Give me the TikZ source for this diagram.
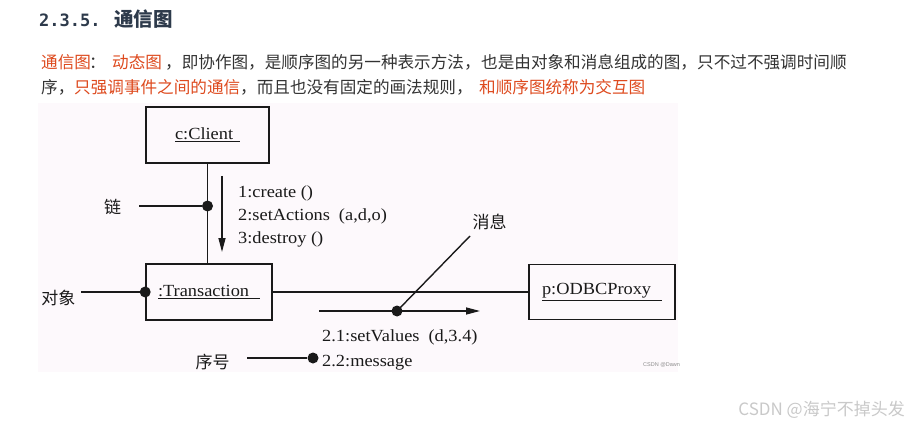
\documentclass[tikz,border=0pt]{standalone}
\usepackage{fontspec}
\setmainfont{Liberation Serif}
\newfontfamily\cjk{Noto Sans CJK SC}
\newfontfamily\dfont[FakeStretch=1.08]{Liberation Serif}
\newfontfamily\monob{DejaVu Sans Mono}
\newfontfamily\wmfont{Liberation Sans}
\usetikzlibrary{arrows.meta}
\definecolor{headc}{HTML}{2D3A4B}
\definecolor{redc}{HTML}{DE4A1E}
\definecolor{bodyc}{HTML}{333333}
\definecolor{wmc}{HTML}{C9C9C9}
\definecolor{diabg}{HTML}{FDF9FC}
\definecolor{ink}{HTML}{1A1A1A}
\begin{document}
\begin{tikzpicture}[x=1pt,y=-1pt,
  body/.style={anchor=base west, inner sep=0pt, text=bodyc, font=\cjk\fontsize{16.6}{20}\selectfont},
  hl/.style={body, text=redc},
  objbox/.style={draw=ink, line width=1.6pt, inner sep=0pt, font=\dfont\fontsize{17}{19}\selectfont, text=ink},
  msg/.style={anchor=base west, inner sep=0pt, font=\dfont\fontsize{17}{19}\selectfont, text=ink},
  lbl/.style={inner sep=0pt, font=\cjk\fontsize{17}{20}\selectfont, text=ink},
  dot/.style={circle, fill=ink, inner sep=0pt, minimum size=11pt},
  conn/.style={draw=ink, line width=1.4pt},
  arr/.style={conn, -{Triangle[length=14pt,width=7pt]}},
]
\useasboundingbox (0,0) rectangle (908,425);
\fill[white] (0,0) rectangle (908,425);
\fill[diabg] (38,103) rectangle (678,372);

% heading
\node[anchor=base west, inner sep=0pt, text=headc, font=\monob\bfseries\fontsize{17}{20}\selectfont] (hnum) at (39,27) {2.3.5.};
\node[anchor=base west, inner sep=0pt, text=headc, font=\cjk\bfseries\fontsize{19.5}{22}\selectfont] (htitle) at (114,27) {通信图};

% paragraph
\node[hl] (p1) at (41,68.8) {通信图};
\node[body] (p2) at (89,68.8) {：};
\node[hl] (p3) at (112,68.8) {动态图};
\node[body] (p4) at (165,68.8) {，即协作图，是顺序图的另一种表示方法，};
\node[body] (p5) at (481,68.8) {也是由对象和消息组成的图，};
\node[body] (p6) at (697,68.8) {只不过不强调时间顺};
\node[body] (q1) at (41,93.8) {序，};
\node[hl] (q2) at (74,93.8) {只强调事件之间的通信};
\node[body] (q3) at (240,93.8) {，而且也没有固定的画法规则，};
\node[hl] (q4) at (479,93.8) {和顺序图统称为交互图};

% objects
\node[objbox, minimum width=123pt, minimum height=56pt] (client) at (207.5,135) {\underline{\makebox[65pt][l]{c:Client}}};
\node[objbox, minimum width=126pt, minimum height=56pt] (trans) at (209,292) {\underline{\makebox[102pt][l]{:Transaction}}};
\node[objbox, minimum width=146pt, minimum height=55pt] (odbc) at (602,292) {\underline{\makebox[120pt][l]{p:ODBCProxy}}};

% links
\draw[conn] (client.south) -- (client.south |- trans.north);
\draw[conn] (trans.east) -- (odbc.west);

% link label
\node[dot] (dlink) at (207.5,206) {};
\coordinate (linkend) at (139,206);
\draw[conn] (linkend) -- (dlink);
\node[lbl] (tlink) at (112.5,207) {链};

% messages client -> transaction
\coordinate (a1s) at (222,176);
\coordinate (a1e) at (222,252);
\draw[arr] (a1s) -- (a1e);
\node[msg] (m1) at (238,197) {1:create ()};
\node[msg] (m2) at (238,220) {2:setActions\hspace{9pt}(a,d,o)};
\node[msg] (m3) at (238,243) {3:destroy ()};

% object label
\node[dot] (dobj) at (trans.west) {};
\coordinate (objend) at (81,292);
\draw[conn] (objend) -- (dobj);
\node[lbl] (tobj) at (58.5,298) {对象};

% message transaction -> proxy
\coordinate (a2s) at (319,311);
\coordinate (a2e) at (480,311);
\draw[arr] (a2s) -- (a2e);
\node[dot] (dmsg) at (397,311) {};
\coordinate (msgend) at (470,236);
\draw[conn] (dmsg.center) -- (msgend);
\node[lbl] (tmsg) at (489.5,222) {消息};
\node[msg] (m21) at (322,341) {2.1:setValues\hspace{9pt}(d,3.4)};
\node[msg] (m22) at (322,366) {2.2:message};

% sequence label
\node[dot] (dseq) at (313,358) {};
\coordinate (seqend) at (247,358);
\draw[conn] (seqend) -- (dseq);
\node[lbl] (tseq) at (212.5,362) {序号};

% watermarks
\node[anchor=west, inner sep=0pt, text=black!45, font=\wmfont\fontsize{5.5}{6}\selectfont] (wm1) at (643,365) {CSDN @Dawn};
\node[anchor=east, inner sep=0pt, text=wmc, font=\cjk\fontsize{17}{20}\selectfont] (wm2) at (905,410) {CSDN @海宁不掉头发};
\end{tikzpicture}
\end{document}
